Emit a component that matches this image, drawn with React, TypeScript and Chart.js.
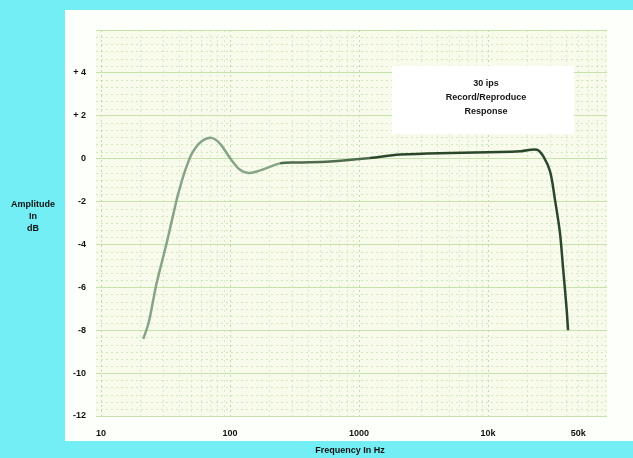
import { useEffect, useRef } from 'react';
import { Chart, registerables } from 'chart.js';

Chart.register(...registerables);

// ---- Data ----
const frequenciesHz = [
  21.3, 23.3, 25.4, 27.0, 32.3, 38.6, 40.9, 43.5, 47.5, 50.5, 55.2, 60.4, 66, 72.1, 80,
  88.7, 100, 119.6, 138.8, 161, 192, 244, 329, 596, 1216, 2080, 5070, 12390, 18000,
  23880, 26860, 30270, 33040, 36120, 38110, 40740, 41690,
];
const amplitudeDb = [
  -8.4, -7.7, -6.6, -5.8, -3.93, -1.92, -1.36, -0.8, -0.15, 0.22, 0.58, 0.81, 0.94, 0.97, 0.82,
  0.5, 0.03, -0.52, -0.67, -0.6, -0.44, -0.22, -0.18, -0.13, 0.03, 0.19, 0.27, 0.31, 0.35,
  0.42, 0.11, -0.6, -1.92, -3.47, -5.06, -7.07, -8.0,
];
const xTickValues = [10, 100, 1000, 10000, 50000];
const xTickLabels = ['10', '100', '1000', '10k', '50k'];
const yMin = -12;
const yMax = 6;
const yStep = 2;
const yTitleLines = ['Amplitude', 'In', 'dB'];
const xTitle = 'Frequency In Hz';
const annotationLines = ['30 ips', 'Record/Reproduce', 'Response'];

const FONT = '"Liberation Sans", Arial, sans-serif';

const decorPlugin = {
  id: 'decor',
  beforeDraw(chart: any) {
    const { ctx, chartArea, width, height } = chart;
    const xs = chart.scales.x;
    const ys = chart.scales.y;
    ctx.save();
    ctx.fillStyle = '#72eef4';
    ctx.fillRect(0, 0, width, height);
    ctx.fillStyle = '#fdfffa';
    ctx.fillRect(65, 10, width - 65, 431);
    ctx.fillStyle = '#f8fbeb';
    ctx.fillRect(chartArea.left, chartArea.top, chartArea.right - chartArea.left, chartArea.bottom - chartArea.top);
    ctx.lineWidth = 1;
    ctx.setLineDash([2, 3]);
    ctx.strokeStyle = 'rgba(150, 205, 120, 0.4)';
    for (let v = yMin; v < yMax; v += yStep) {
      for (let k = 1; k < 6; k++) {
        const y = Math.round(ys.getPixelForValue(v + (k * yStep) / 6)) + 0.5;
        ctx.beginPath();
        ctx.moveTo(chartArea.left, y);
        ctx.lineTo(chartArea.right, y);
        ctx.stroke();
      }
    }
    for (let d = 10; d <= 100000; d *= 10) {
      for (let k = 1; k < 10; k++) {
        const f = d * k;
        if (f < xs.min || f > xs.max) continue;
        const x = Math.round(xs.getPixelForValue(f)) + 0.5;
        ctx.strokeStyle = k === 1 ? 'rgba(140, 200, 110, 0.55)' : 'rgba(150, 205, 120, 0.32)';
        ctx.beginPath();
        ctx.moveTo(x, chartArea.top);
        ctx.lineTo(x, chartArea.bottom);
        ctx.stroke();
      }
    }
    ctx.restore();
  },
  beforeDatasetsDraw(chart: any) {
    const { ctx } = chart;
    ctx.save();
    ctx.fillStyle = '#ffffff';
    ctx.fillRect(392, 66, 182, 68);
    ctx.fillStyle = '#151515';
    ctx.font = `bold 9px ${FONT}`;
    ctx.textAlign = 'center';
    ctx.textBaseline = 'middle';
    annotationLines.forEach((t, i) => ctx.fillText(t, 486, 84 + i * 13.8));
    ctx.restore();
  },
  afterDraw(chart: any) {
    const { ctx } = chart;
    ctx.save();
    ctx.fillStyle = '#111111';
    ctx.font = `bold 9px ${FONT}`;
    ctx.textAlign = 'center';
    ctx.textBaseline = 'middle';
    yTitleLines.forEach((t, i) => ctx.fillText(t, 33, 205 + i * 12));
    ctx.fillText(xTitle, 350, 451);
    ctx.restore();
  },
};

export default function App() {
  const ref = useRef<HTMLCanvasElement | null>(null);
  useEffect(() => {
    if (!ref.current) return;
    const chart = new Chart(ref.current, {
      type: 'line',
      data: {
        datasets: [
          {
            data: frequenciesHz.map((f, i) => ({ x: f, y: amplitudeDb[i] })),
            borderColor: '#304d30',
            borderWidth: 2.5,
            pointRadius: 0,
            tension: 0.35,
            segment: {
              borderColor: (c: any) => (c.p0.parsed.x < 200 ? '#87a487' : c.p0.parsed.x < 600 ? '#4e6b4e' : '#2b462b'),
            },
          } as any,
        ],
      },
      options: {
        responsive: false,
        animation: false,
        events: [],
        layout: { padding: { top: 30, right: 26, left: 0, bottom: 0 } },
        plugins: { legend: { display: false }, tooltip: { enabled: false } },
        scales: {
          x: {
            type: 'logarithmic',
            min: 9.15,
            max: 83600,
            afterFit: (s: any) => { s.height = 42; },
            afterBuildTicks: (s: any) => { s.ticks = xTickValues.map((v) => ({ value: v })); },
            ticks: {
              autoSkip: false,
              maxRotation: 0,
              padding: 4,
              color: '#111111',
              font: { family: FONT, size: 9, weight: 'bold' },
              callback: (v: any) => {
                const i = xTickValues.indexOf(Number(v));
                return i >= 0 ? xTickLabels[i] : '';
              },
            },
            grid: { display: false },
            border: { display: false },
          },
          y: {
            min: yMin,
            max: yMax,
            afterFit: (s: any) => { s.width = 96; },
            ticks: {
              stepSize: yStep,
              padding: 10,
              color: '#111111',
              font: { family: FONT, size: 9, weight: 'bold' },
              callback: (v: any) => (v === yMax ? '' : v > 0 ? '+ ' + v : String(v)),
            },
            grid: { color: '#c4e2aa', lineWidth: 1, drawTicks: false },
            border: { display: false },
          },
        },
      } as any,
      plugins: [decorPlugin],
    });
    return () => chart.destroy();
  }, []);
  return (
    <div style={{ position: 'fixed', left: 0, top: 0, width: 633, height: 458 }}>
      <canvas ref={ref} width={633} height={458} style={{ display: 'block' }} />
    </div>
  );
}
